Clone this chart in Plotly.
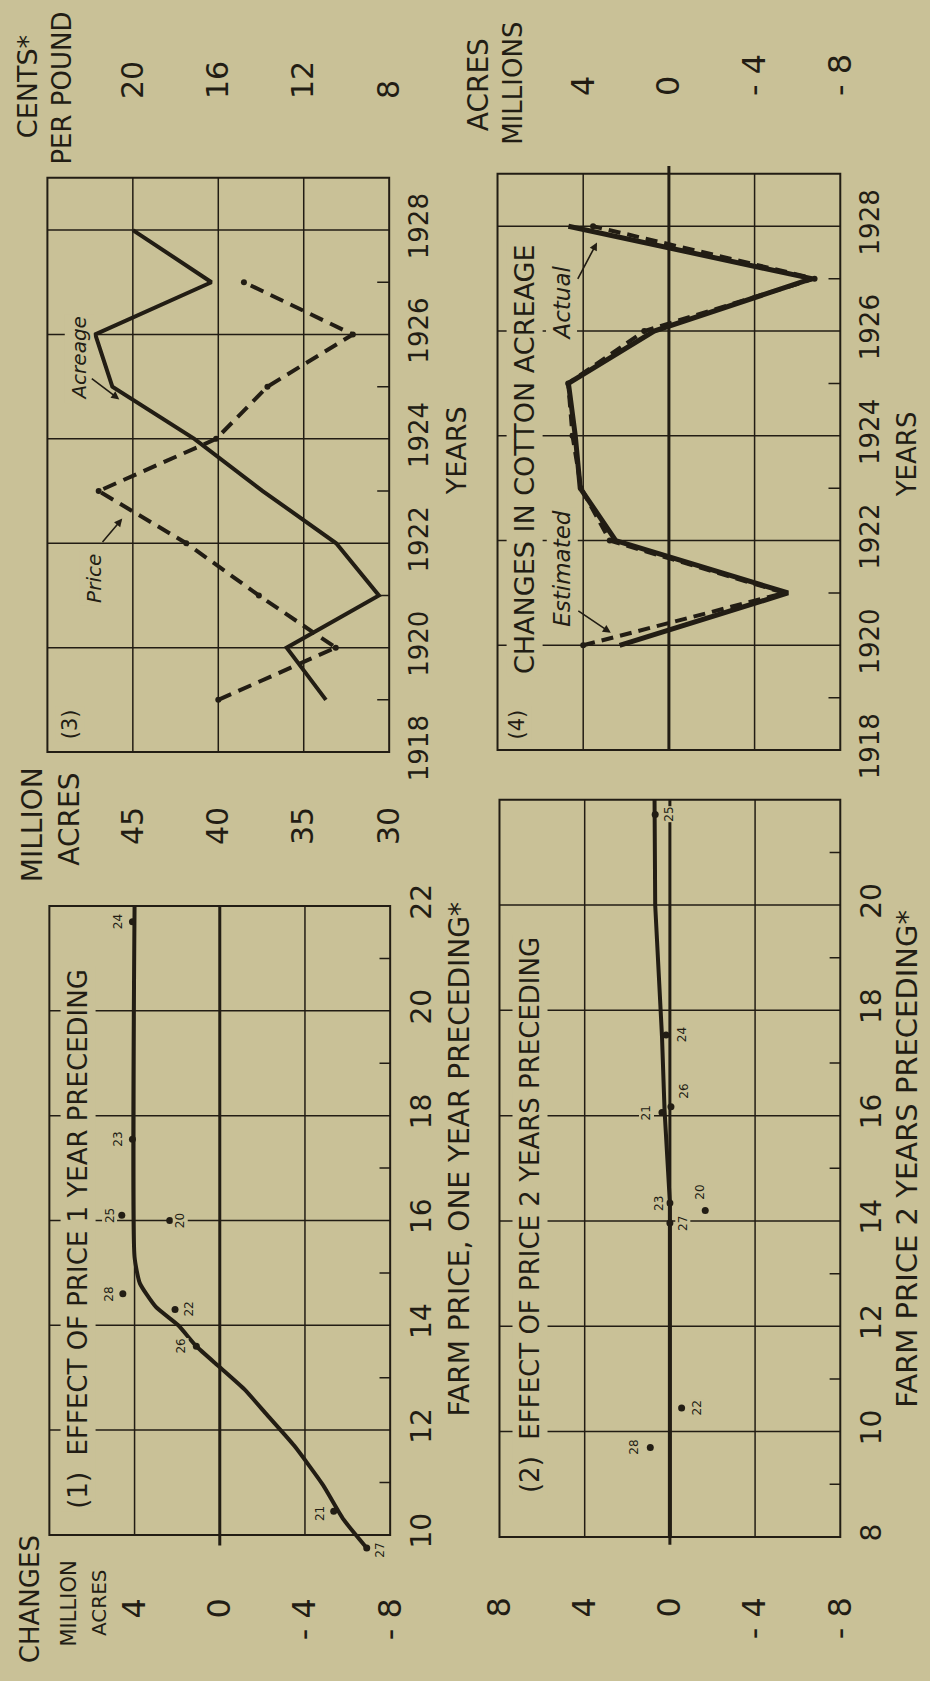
import plotly.graph_objects as go

W, H = 930, 1681
BG = "#C9C197"
INK = "#221D14"
FONT = "DejaVu Sans"

# ---------------- DATA ----------------
# Panel 1: effect of price 1 year preceding (price in cents, change in million acres)
p1_labels = ["24", "23", "25", "20", "28", "22", "26", "21", "27"]
p1_price = [21.7, 17.55, 16.1, 16.0, 14.6, 14.3, 13.6, 10.45, 9.75]
p1_change = [4.1, 4.1, 4.6, 2.35, 4.55, 2.1, 1.1, -5.35, -6.9]
p1_curve_price = [22.0, 15.3, 14.8, 14.35, 14.0, 13.6, 13.2, 12.78, 12.3, 11.7, 10.95, 10.3, 9.75]
p1_curve_change = [4.0, 4.0, 3.75, 3.0, 1.95, 1.1, 0.0, -1.15, -2.2, -3.5, -4.85, -5.8, -6.9]

# Panel 2: effect of price 2 years preceding
p2_labels = ["25", "24", "26", "21", "23", "27", "20", "22", "28"]
p2_price = [21.72, 17.53, 16.17, 16.06, 14.34, 13.96, 14.2, 10.45, 9.7]
p2_change = [0.69, 0.18, -0.05, 0.37, 0.0, 0.0, -1.66, -0.55, 0.92]
p2_curve_price = [8.0, 14.35, 16.1, 17.5, 20.0, 22.0]
p2_curve_change = [0.0, 0.0, 0.25, 0.37, 0.69, 0.72]

# Panel 3: acreage (million acres) and price (cents per pound) by year
p3_years = [1919, 1920, 1921, 1922, 1923, 1924, 1925, 1926, 1927, 1928]
p3_acreage = [33.7, 36.0, 30.6, 33.1, 37.4, 41.4, 46.2, 47.2, 40.4, 45.0]
p3_price_years = [1919, 1920, 1921, 1922, 1923, 1924, 1925, 1926, 1927]
p3_price = [16.0, 10.5, 14.1, 17.5, 21.6, 16.1, 13.7, 9.7, 14.8]

# Panel 4: changes in cotton acreage, actual vs estimated
p4_years = [1920, 1921, 1922, 1923, 1924, 1925, 1926, 1927, 1928]
p4_actual = [2.3, -5.56, 2.48, 4.14, 4.37, 4.69, 0.69, -6.67, 4.69]
p4_estimated = [4.0, -5.4, 2.76, 4.1, 4.5, 4.7, 1.15, -6.8, 3.54]

# Tick labels
chg_ticks1 = [4, 0, -4, -8]
chg_ticks2 = [8, 4, 0, -4, -8]
chg_text = {8: "8", 4: "4", 0: "0", -4: "- 4", -8: "- 8"}
price_ticks1 = [10, 12, 14, 16, 18, 20, 22]
price_ticks2 = [8, 10, 12, 14, 16, 18, 20]
acre_ticks = [45, 40, 35, 30]
cent_ticks = [20, 16, 12, 8]
year_ticks = [1918, 1920, 1922, 1924, 1926, 1928]

# ---------------- GEOMETRY HELPERS ----------------
PADX, PADY = 12, 20


def ax_x(box_l, box_r, v_l, v_r, pad=PADX):
    s = (v_r - v_l) / (box_r - box_l)
    return [(box_l - pad) / W, (box_r + pad) / W], [v_l - pad * s, v_r + pad * s]


def ax_y(box_t, box_b, v_t, v_b, pad=PADY):
    s = (v_t - v_b) / (box_b - box_t)
    return [1 - (box_b + pad) / H, 1 - (box_t - pad) / H], [v_b - pad * s, v_t + pad * s]


# boxes in pixels: (left, right, top, bottom)
d1x, r1x = ax_x(42, 388, 8, -8)
d1y, r1y = ax_y(910, 1543, 22, 10)
d2x, r2x = ax_x(499, 845, 8, -8)
d2y, r2y = ax_y(803, 1545, 22, 8)
d3x, r3x = ax_x(40, 387, 50, 30)
d3c, r3c = ax_x(40, 387, 24, 8)
d3y, r3y = ax_y(177, 755, 1929, 1918)
d4x, r4x = ax_x(497, 845, 8, -8)
d4y, r4y = ax_y(173, 753, 1929, 1918)

tickfont = lambda s: dict(family=FONT, size=s, color=INK)


def xax(domain, rng, anchor, side, vals, text, size, standoff, **kw):
    d = dict(domain=domain, range=rng, anchor=anchor, side=side, tickmode="array",
             tickvals=vals, ticktext=text, tickangle=-90, tickfont=tickfont(size),
             showgrid=False, zeroline=False, showline=False, ticks="",
             ticklabelstandoff=standoff, fixedrange=True)
    d.update(kw)
    return d


fig = go.Figure()

# ---------------- TRACES ----------------
line = lambda w, dash="solid": dict(color=INK, width=w, dash=dash)
mk = dict(color=INK, size=7)

fig.add_trace(go.Scatter(x=p1_curve_change, y=p1_curve_price, mode="lines",
                         line=dict(color=INK, width=4, shape="spline", smoothing=0.5),
                         xaxis="x", yaxis="y", hoverinfo="skip"))
fig.add_trace(go.Scatter(x=p1_change, y=p1_price, mode="markers", marker=mk,
                         xaxis="x", yaxis="y", cliponaxis=False))

fig.add_trace(go.Scatter(x=p2_curve_change, y=p2_curve_price, mode="lines",
                         line=dict(color=INK, width=4), xaxis="x2", yaxis="y2"))
fig.add_trace(go.Scatter(x=p2_change, y=p2_price, mode="markers", marker=mk,
                         xaxis="x2", yaxis="y2", cliponaxis=False))

fig.add_trace(go.Scatter(x=p3_acreage, y=p3_years, mode="lines", line=line(4),
                         xaxis="x3", yaxis="y3"))
fig.add_trace(go.Scatter(x=p3_price, y=p3_price_years, mode="lines+markers",
                         line=line(4, "14px,8px"), marker=dict(color=INK, size=6),
                         xaxis="x5", yaxis="y3"))

fig.add_trace(go.Scatter(x=p4_actual, y=p4_years, mode="lines", line=line(5),
                         xaxis="x4", yaxis="y4"))
fig.add_trace(go.Scatter(x=p4_estimated, y=p4_years, mode="lines+markers",
                         line=line(4, "12px,7px"), marker=dict(color=INK, size=6),
                         xaxis="x4", yaxis="y4"))

# ---------------- GRID / FRAMES (shapes) ----------------
shapes = []


def seg(xr, yr, x0, y0, x1, y1, w=1.5):
    shapes.append(dict(type="line", xref=xr, yref=yr, x0=x0, y0=y0, x1=x1, y1=y1,
                       line=dict(color=INK, width=w), layer="below"))


def rect(xr, yr, x0, y0, x1, y1, w=2):
    shapes.append(dict(type="rect", xref=xr, yref=yr, x0=x0, y0=y0, x1=x1, y1=y1,
                       line=dict(color=INK, width=w), layer="below"))


# panel 1
rect("x", "y", 8, 10, -8, 22)
for v in (4, -4):
    seg("x", "y", v, 10, v, 22)
seg("x", "y", 0, 9.8, 0, 22, 3)
for p in (12, 14, 16, 18, 20):
    seg("x", "y", 8, p, -8, p)
for p in (11, 13, 15, 17, 19, 21):
    seg("x", "y", -8, p, -7.5, p)

# panel 2
rect("x2", "y2", 8, 8, -8, 22)
for v in (4, -4):
    seg("x2", "y2", v, 8, v, 22)
seg("x2", "y2", 0, 7.85, 0, 22, 3)
for p in (10, 12, 14, 16, 18, 20):
    seg("x2", "y2", 8, p, -8, p)
for p in (9, 11, 13, 15, 17, 19, 21):
    seg("x2", "y2", -8, p, -7.5, p)

# panel 3
rect("x3", "y3", 50, 1918, 30, 1929)
for a in (45, 40, 35):
    seg("x3", "y3", a, 1918, a, 1929)
for yv in (1920, 1922, 1924, 1926, 1928):
    seg("x3", "y3", 50, yv, 30, yv)
for yv in (1919, 1921, 1923, 1925, 1927):
    seg("x3", "y3", 30, yv, 30.7, yv)

# panel 4
rect("x4", "y4", 8, 1918, -8, 1929)
for v in (4, -4):
    seg("x4", "y4", v, 1918, v, 1929)
seg("x4", "y4", 0, 1918, 0, 1929.15, 3)
for yv in (1920, 1922, 1924, 1926, 1928):
    seg("x4", "y4", 8, yv, -8, yv)
for yv in (1919, 1921, 1923, 1925, 1927):
    seg("x4", "y4", -8, yv, -7.45, yv)

# ---------------- TEXT ----------------
ann = []


def txt(x, y, s, size, italic=False, mask=False):
    a = dict(x=x / W, y=1 - y / H, xref="paper", yref="paper", text=s, showarrow=False,
             textangle=-90, xanchor="center", yanchor="middle",
             font=dict(family=FONT, size=size, color=INK,
                       style="italic" if italic else "normal"))
    if mask:
        a.update(bgcolor=BG, borderpad=2)
    ann.append(a)


def arrow(x0, y0, x1, y1):
    ann.append(dict(x=x1 / W, y=1 - y1 / H, xref="paper", yref="paper", text="",
                    showarrow=True, ax=x0 - x1, ay=y0 - y1, arrowhead=2, arrowsize=1,
                    arrowwidth=1.6, arrowcolor=INK, standoff=0, startstandoff=0))


def pt_labels(xr, yr, xs, ys, labels, shifts):
    for xv, yv, lab in zip(xs, ys, labels):
        dx, dy = shifts[lab]
        ann.append(dict(x=xv, y=yv, xref=xr, yref=yr, text=lab, showarrow=False,
                        textangle=-90, xshift=dx, yshift=dy,
                        font=dict(family=FONT, size=12, color=INK),
                        bgcolor=BG, borderpad=0))


# panel 1 texts
txt(23, 1608, "CHANGES", 26)
txt(62, 1612, "MILLION", 21)
txt(93, 1611, "ACRES", 20)
txt(71, 1245, "(1)&nbsp;&nbsp;EFFECT OF PRICE 1 YEAR PRECEDING", 26, mask=True)
txt(458, 1165, "FARM PRICE, ONE YEAR PRECEDING*", 28)
pt_labels("x", "y", p1_change, p1_price, p1_labels,
          {"24": (-15, 0), "23": (-14, 0), "25": (-12, 0), "20": (11, 0), "28": (-14, 0),
           "22": (14, 0), "26": (-15, 0), "21": (-13, -2), "27": (13, -2)})

# panel 2 texts
txt(530, 1221, "(2)&nbsp;&nbsp;EFFECT OF PRICE 2 YEARS PRECEDING", 26, mask=True)
txt(913, 1164, "FARM PRICE 2 YEARS PRECEDING*", 29)
pt_labels("x2", "y2", p2_change, p2_price, p2_labels,
          {"25": (14, 0), "24": (16, 0), "26": (13, 16), "21": (-16, 0), "23": (-11, 0),
           "27": (13, 0), "20": (-5, 18), "22": (15, 0), "28": (-16, 0)})

# panel 3 texts
txt(25, 828, "MILLION", 28)
txt(63, 823, "ACRES", 28)
txt(20, 85, "CENTS*", 27)
txt(55, 87, "PER POUND", 26)
txt(63, 727, "(3)", 21, mask=True)
txt(88, 580, "Price", 20, italic=True, mask=True)
arrow(95, 545, 116, 520)
txt(72, 359, "Acreage", 20, italic=True, mask=True)
arrow(84, 378, 113, 400)
txt(455, 452, "YEARS", 27)

# panel 4 texts
txt(478, 83, "ACRES", 28)
txt(513, 82, "MILLIONS", 26)
txt(517, 727, "(4)", 21, mask=True)
txt(525, 460, "CHANGES IN COTTON ACREAGE", 27, mask=True)
txt(562, 303, "Actual", 23, italic=True, mask=True)
arrow(578, 280, 598, 242)
txt(563, 570, "Estimated", 23, italic=True, mask=True)
arrow(578, 612, 612, 635)
txt(913, 455, "YEARS", 26)

# ---------------- LAYOUT ----------------
fig.update_layout(
    width=W, height=H, margin=dict(l=0, r=0, t=0, b=0),
    paper_bgcolor=BG, plot_bgcolor="rgba(0,0,0,0)", showlegend=False,
    shapes=shapes, annotations=ann,
    xaxis=xax(d1x, r1x, "y", "bottom", chg_ticks1, [chg_text[v] for v in chg_ticks1], 32, 36),
    yaxis=xax(d1y, r1y, "x", "right", price_ticks1, [str(v) for v in price_ticks1], 28, 0),
    xaxis2=xax(d2x, r2x, "y2", "bottom", chg_ticks2, [chg_text[v] for v in chg_ticks2], 32, 33),
    yaxis2=xax(d2y, r2y, "x2", "right", price_ticks2, [str(v) for v in price_ticks2], 28, 0),
    xaxis3=xax(d3x, r3x, "y3", "bottom", acre_ticks, [str(v) for v in acre_ticks], 30, 28),
    xaxis5=xax(d3c, r3c, "y3", "top", cent_ticks, [str(v) for v in cent_ticks], 30, 58,
               overlaying="x3"),
    yaxis3=xax(d3y, r3y, "x3", "right", year_ticks, [str(v) for v in year_ticks], 26, 0),
    xaxis4=xax(d4x, r4x, "y4", "top", chg_ticks1, [chg_text[v] for v in chg_ticks1], 32, 57),
    yaxis4=xax(d4y, r4y, "x4", "right", year_ticks, [str(v) for v in year_ticks], 26, 0),
)

fig.write_html("out.html", config={"displayModeBar": False},
               post_script="document.body.style.margin='0px';document.body.style.padding='0px';")
